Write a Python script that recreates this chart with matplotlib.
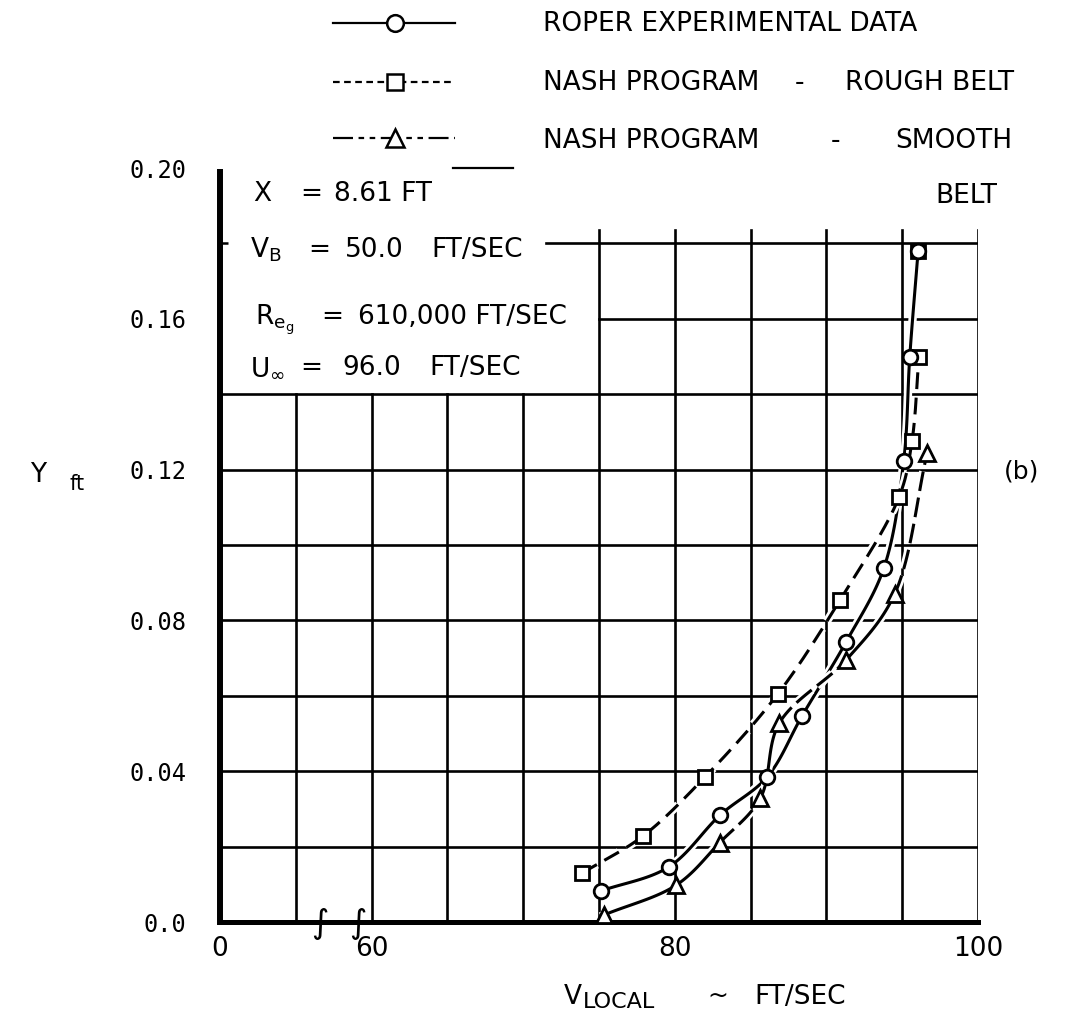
import numpy as np
import matplotlib
matplotlib.use("Agg")
import matplotlib.pyplot as plt
import matplotlib.patheffects as pe
from matplotlib.lines import Line2D

# ---------------- data ----------------
roper_v = [75.1, 79.6, 83.0, 86.1, 88.4, 91.3, 93.8, 95.1, 95.5, 96.05]
roper_y = [0.0082, 0.0146, 0.0284, 0.0385, 0.0547, 0.0743, 0.094, 0.1224, 0.150, 0.178]

rough_v = [73.9, 77.9, 82.0, 86.8, 90.9, 94.8, 95.65, 96.1, 96.05]
rough_y = [0.013, 0.0228, 0.0385, 0.0605, 0.0854, 0.1128, 0.1277, 0.150, 0.178]

smooth_v = [75.35, 80.1, 82.95, 85.65, 86.9, 91.3, 94.5, 96.65]
smooth_y = [0.0019, 0.0098, 0.021, 0.0329, 0.0528, 0.0695, 0.087, 0.1245]

xtick_vals = [50, 60, 80, 100]
xtick_labels = ["0", "60", "80", "100"]
ytick_vals = [0.0, 0.04, 0.08, 0.12, 0.16, 0.20]
ytick_labels = ["0.0", "0.04", "0.08", "0.12", "0.16", "0.20"]

legend_labels = ["ROPER EXPERIMENTAL DATA", "NASH PROGRAM - ROUGH BELT",
                 "NASH PROGRAM - SMOOTH BELT"]

# ---------------- styling ----------------
W, H = 1065, 1014
fig = plt.figure(figsize=(W / 100, H / 100), dpi=100)
fig.patch.set_facecolor("white")
ax = fig.add_axes([220 / W, 1 - 922 / H, 758 / W, 754 / H])
ax.set_xlim(50, 100)
ax.set_ylim(0, 0.20)

FONT = "DejaVu Sans"
MONO = "DejaVu Sans Mono"


def px(x, y):
    return x / W, 1 - y / H


def ftext(x, y, s, size=18, ha="left", va="baseline", family=FONT, **kw):
    fig.text(*px(x, y), s, fontsize=size, ha=ha, va=va, family=family, **kw)


# grid (hand-drawn chart: some lines stop where the text block sits)
glw = 1.9
for xv in [55, 60, 65, 70]:
    ax.plot([xv, xv], [0, 0.14], color="black", lw=glw, zorder=1)
for xv in [75, 80, 85, 90, 95, 100]:
    ax.plot([xv, xv], [0, 0.1835], color="black", lw=glw, zorder=1)
for yv in [0.02, 0.04, 0.06, 0.08, 0.10, 0.12, 0.14]:
    ax.plot([50, 100], [yv, yv], color="black", lw=glw, zorder=1)
ax.plot([75, 100], [0.16, 0.16], color="black", lw=glw, zorder=1)
ax.plot([71.5, 100], [0.18, 0.18], color="black", lw=glw, zorder=1)

# spines
for s in ["top", "right"]:
    ax.spines[s].set_visible(False)
ax.spines["left"].set_linewidth(4.3)
ax.spines["left"].set_bounds(0, 0.199)
ax.spines["bottom"].set_linewidth(3.6)
ax.spines["bottom"].set_bounds(50, 100)
ax.spines["left"].set_zorder(2)
ax.spines["bottom"].set_zorder(2)

ax.set_xticks(xtick_vals, xtick_labels, family=FONT, fontsize=19)
ax.set_yticks(ytick_vals, ytick_labels, family=MONO, fontsize=17)
ax.tick_params(axis="both", which="major", length=0)
ax.tick_params(axis="x", pad=10)
ax.tick_params(axis="y", pad=24)
ax.set_yticks([0.16, 0.18], minor=True)
ax.tick_params(axis="y", which="minor", direction="in", length=6, width=1.8)


# ---------------- smooth faired curves through the points ----------------
def faired_segments(xs, ys, n=24):
    P = np.column_stack([(np.asarray(xs, float) - 50) / 50, np.asarray(ys, float) / 0.2])
    Q = np.vstack([2 * P[0] - P[1], P, 2 * P[-1] - P[-2]])
    segs = []
    for i in range(1, len(Q) - 2):
        p0, p1, p2, p3 = Q[i - 1], Q[i], Q[i + 1], Q[i + 2]
        t0 = 0.0
        t1 = t0 + max(np.linalg.norm(p1 - p0), 1e-6) ** 0.5
        t2 = t1 + max(np.linalg.norm(p2 - p1), 1e-6) ** 0.5
        t3 = t2 + max(np.linalg.norm(p3 - p2), 1e-6) ** 0.5
        t = np.linspace(t1, t2, n)[:, None]
        A1 = (t1 - t) / (t1 - t0) * p0 + (t - t0) / (t1 - t0) * p1
        A2 = (t2 - t) / (t2 - t1) * p1 + (t - t1) / (t2 - t1) * p2
        A3 = (t3 - t) / (t3 - t2) * p2 + (t - t2) / (t3 - t2) * p3
        B1 = (t2 - t) / (t2 - t0) * A1 + (t - t0) / (t2 - t0) * A2
        B2 = (t3 - t) / (t3 - t1) * A2 + (t - t1) / (t3 - t1) * A3
        C = (t2 - t) / (t2 - t1) * B1 + (t - t1) / (t2 - t1) * B2
        segs.append((C[:, 0] * 50 + 50, C[:, 1] * 0.2))
    return segs


halo = [pe.Stroke(linewidth=6, foreground="white"), pe.Normal()]
clw = 2.2
dash_rough = (0, (5.5, 2.8))
dash_smooth = (0, (6.5, 2.2))

# Roper: solid
for sx, sy in faired_segments(roper_v, roper_y):
    ax.plot(sx, sy, color="black", lw=clw, zorder=3, path_effects=halo,
            solid_capstyle="round")
# Nash rough: dashed (the top point is shared with the Roper curve)
rough_curve_n = 8
rsegs = faired_segments(rough_v[:rough_curve_n], rough_y[:rough_curve_n])
rx = np.concatenate([s[0] for s in rsegs])
ry = np.concatenate([s[1] for s in rsegs])
ax.plot(rx, ry, color="black", lw=clw, ls=dash_rough, zorder=3, path_effects=halo)
# Nash smooth: alternating solid / dashed segments as in the drawing
smooth_styles = ["-", "-", dash_smooth, "-", dash_smooth, "-", dash_smooth]
for (sx, sy), st in zip(faired_segments(smooth_v, smooth_y), smooth_styles):
    ax.plot(sx, sy, color="black", lw=clw, ls=st, zorder=3, path_effects=halo)

mk = dict(color="black", mfc="white", mew=2.0, ls="none", zorder=5, clip_on=False)
ax.plot(rough_v, rough_y, marker="s", ms=10.5, **mk)
ax.plot(smooth_v, smooth_y, marker="^", ms=12, **mk)
ax.plot(roper_v, roper_y, marker="o", ms=10.5, **mk)

# axis break marks
ftext(320, 923, "\u222b", size=24, ha="center", va="center")
ftext(358, 923, "\u222b", size=24, ha="center", va="center")

# ---------------- legend (drawn like the original key) ----------------
def key(y, ls, marker, ms):
    fig.add_artist(Line2D([333 / W, 455 / W], [1 - y / H, 1 - y / H], color="black",
                          lw=1.6, ls=ls, transform=fig.transFigure))
    fig.add_artist(Line2D([395 / W], [1 - y / H], color="black", marker=marker, ms=ms,
                          mfc="white", mew=1.8, ls="none", transform=fig.transFigure))

key(23, "-", "o", 12)
key(82, (0, (3, 2)), "s", 11)
key(138, (0, (9, 2.5, 2.5, 2.5, 2.5, 2.5)), "^", 13)
fig.add_artist(Line2D([453 / W, 513 / W], [1 - 168 / H, 1 - 168 / H], color="black",
                      lw=1.6, transform=fig.transFigure))

LS = 19
ftext(543, 31, legend_labels[0], size=LS)
ftext(543, 90, "NASH PROGRAM", size=LS)
ftext(800, 90, "-", size=LS, ha="center")
ftext(1014, 90, "ROUGH BELT", size=LS, ha="right")
ftext(543, 148, "NASH PROGRAM", size=LS)
ftext(835, 148, "-", size=LS, ha="center")
ftext(1012, 148, "SMOOTH", size=LS, ha="right")
ftext(997, 203, "BELT", size=LS, ha="right")

# ---------------- parameter block ----------------
TS = 19
ftext(253, 201, "X", size=TS)
ftext(300, 201, "=", size=TS)
ftext(334, 201, "8.61 FT", size=TS)

ftext(250, 257, r"V$_\mathregular{B}$", size=TS)
ftext(308, 257, "=", size=TS)
ftext(345, 257, "50.0", size=TS)
ftext(431, 257, "FT/SEC", size=TS)

ftext(255, 324, r"R$_{\mathregular{e}_{\mathregular{g}}}$", size=TS)
ftext(321, 324, "=", size=TS)
ftext(358, 324, "610,000 FT/SEC", size=TS)

ftext(250, 375, r"U$_\infty$", size=TS)
ftext(300, 375, "=", size=TS)
ftext(342, 375, "96.0", size=TS)
ftext(429, 375, "FT/SEC", size=TS)

# ---------------- axis titles ----------------
ftext(30, 482, "Y", size=19)
ftext(70, 490, "ft", size=15)
ftext(1022, 472, "(b)", size=18, ha="center", va="center")

ftext(564, 1004, "V", size=19)
ftext(583, 1008, "LOCAL", size=16)
ftext(718, 996, "~", size=18, ha="center", va="center")
ftext(754, 1004, "FT/SEC", size=19)

fig.savefig("out.png", dpi=100, facecolor="white")
